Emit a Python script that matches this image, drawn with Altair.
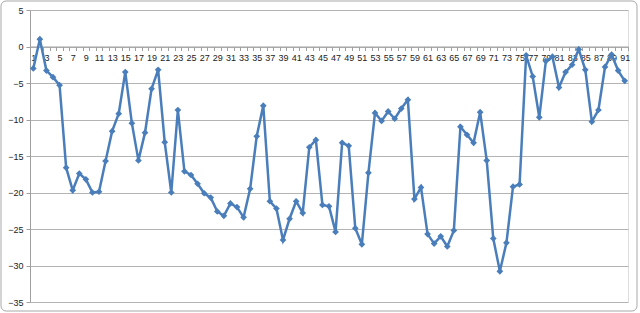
import altair as alt
import pandas as pd

categories = list(range(1, 92))
values = [
    -3.0, 1.0, -3.3, -4.2, -5.3, -16.6, -19.7, -17.4, -18.2, -20.0,
    -19.9, -15.7, -11.6, -9.2, -3.5, -10.5, -15.6, -11.8, -5.8, -3.2,
    -13.1, -20.0, -8.7, -17.1, -17.6, -18.8, -20.1, -20.7, -22.6, -23.2,
    -21.5, -22.0, -23.4, -19.5, -12.3, -8.1, -21.2, -22.2, -26.5, -23.6,
    -21.2, -22.8, -13.8, -12.8, -21.7, -21.9, -25.4, -13.2, -13.6, -24.9,
    -27.1, -17.3, -9.1, -10.2, -8.9, -9.9, -8.5, -7.3, -20.9, -19.3,
    -25.7, -27.0, -26.0, -27.4, -25.2, -11.0, -12.1, -13.2, -9.0, -15.6,
    -26.3, -30.8, -26.9, -19.2, -18.9, -1.2, -4.1, -9.7, -2.0, -1.4,
    -5.6, -3.5, -2.5, -0.4, -3.2, -10.3, -8.7, -2.8, -1.1, -3.3, -4.7,
]
y_ticks = [5, 0, -5, -10, -15, -20, -25, -30, -35]

df = pd.DataFrame({"cat": categories, "val": values})

W, H = 598, 292
font = "Liberation Sans"
grey = "#a0a0a0"

x_scale = alt.Scale(domain=[0.5, 91.5], nice=False, zero=False)
y_scale = alt.Scale(domain=[-35, 5], nice=False, zero=False)

tick_vals = [c - 0.5 for c in categories] + [91.5]
px_per_cat = W / 91.0

x_axis = alt.Axis(
    orient="bottom",
    offset=-(H - H * 5 / 40),
    values=tick_vals,
    labelExpr="((datum.value - 0.5) % 2 == 1) ? format(datum.value - 0.5, 'd') : ''",
    labelOffset=-px_per_cat / 2,
    labelOverlap=False,
    labelBound=False,
    labelFlush=False,
    labelPadding=3,
    labelFont=font,
    labelFontSize=9,
    labelColor="#222222",
    tickSize=4,
    tickColor=grey,
    domainColor=grey,
    grid=False,
    title=None,
)

y_axis = alt.Axis(
    values=y_ticks,
    labelFont=font,
    labelFontSize=9,
    labelColor="#222222",
    labelPadding=3,
    tickSize=4,
    tickColor=grey,
    domainColor=grey,
    gridColor="#b4b4b4",
    title=None,
)

line = alt.Chart(df).mark_line(
    color="#4a7ebb",
    strokeWidth=2.5,
    point=alt.OverlayMarkDef(shape="diamond", size=45, filled=True, color="#4a7ebb"),
).encode(
    x=alt.X("cat:Q", scale=x_scale, axis=x_axis),
    y=alt.Y("val:Q", scale=y_scale, axis=y_axis),
)

border = alt.Chart(pd.DataFrame({"a": [0]})).mark_rect(
    fill=None, stroke="#a8a8a8", strokeWidth=1, cornerRadius=5, clip=False
).encode(
    x=alt.value(-29), x2=alt.value(W + 9),
    y=alt.value(-9), y2=alt.value(H + 9),
)

chart = alt.layer(border, line).properties(
    width=W, height=H,
    autosize=alt.AutoSizeParams(type="none"),
    padding={"left": 30, "top": 10, "right": 12, "bottom": 11},
).configure_view(stroke=None).configure(background="white")

chart.save("out.html", embed_options={"renderer": "svg", "actions": False})
